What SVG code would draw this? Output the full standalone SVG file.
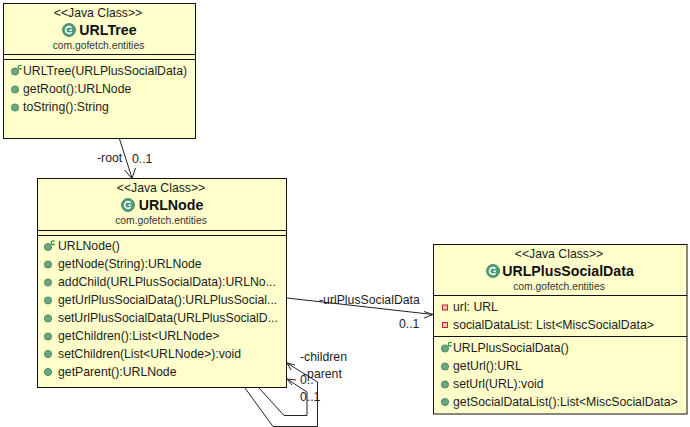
<svg xmlns="http://www.w3.org/2000/svg" width="690" height="427" viewBox="0 0 690 427">
<style>
text{font-family:"Liberation Sans",Arial,sans-serif;font-size:12.25px;fill:#1c1c1c}
.box{fill:#ffffcc;stroke:#111;stroke-width:1}
.div{stroke:#111;stroke-width:1}
.ctr{text-anchor:middle}
text.name{font-size:14.2px;font-weight:bold;fill:#111;text-anchor:middle}
text.pkg{font-size:10.3px;fill:#333;text-anchor:middle}
.conn{fill:none;stroke:#222;stroke-width:1}
.arrow{fill:none;stroke:#222;stroke-width:1}
</style>
<defs>
<g id="cls"><circle r="6.5" fill="#4f9d78" stroke="#3b7a5c" stroke-width="0.8"/><path d="M2.6 -2.2 A3.4 3.4 0 1 0 2.6 2.2 M3 0.3H0.5" fill="none" stroke="#fff" stroke-width="1.6"/></g>
<g id="pub"><circle r="3.6" fill="#6aa67f" stroke="#3f7a58" stroke-width="0.8"/></g>
<g id="ctor"><use href="#pub"/><path d="M6.6 -5.6 A1.9 1.9 0 1 0 6.6 -3" fill="none" stroke="#0a8a2a" stroke-width="1.1"/></g>
<g id="priv"><rect x="-2.5" y="-2.5" width="5" height="5" fill="#f0c0c0" stroke="#b02a2a" stroke-width="1"/></g>
</defs>

<g id="URLTree">
<rect class="box" x="3.500" y="3.500" width="192" height="135"/>
<line class="div" x1="4" y1="54.500" x2="195" y2="54.500"/>
<line class="div" x1="4" y1="59.500" x2="195" y2="59.500"/>
<text class="ctr" x="98" y="17">&lt;&lt;Java Class&gt;&gt;</text>
<use href="#cls" x="69" y="30"/>
<text class="name" x="108" y="35">URLTree</text>
<text class="pkg" x="98.500" y="49">com.gofetch.entities</text>
<use href="#ctor" x="15" y="71.500"/>
<text x="23" y="75">URLTree(URLPlusSocialData)</text>
<use href="#pub" x="15" y="89.500"/>
<text x="23" y="93">getRoot():URLNode</text>
<use href="#pub" x="15" y="107.500"/>
<text x="23" y="111">toString():String</text>
</g>

<g id="URLNode">
<rect class="box" x="37.500" y="178.500" width="249" height="209"/>
<line class="div" x1="38" y1="230.500" x2="286" y2="230.500"/>
<line class="div" x1="38" y1="235.500" x2="286" y2="235.500"/>
<text class="ctr" x="161" y="192">&lt;&lt;Java Class&gt;&gt;</text>
<use href="#cls" x="128" y="205"/>
<text class="name" x="171" y="210">URLNode</text>
<text class="pkg" x="161" y="224">com.gofetch.entities</text>
<use href="#ctor" x="48" y="247"/>
<text x="58" y="250">URLNode()</text>
<use href="#pub" x="48" y="264.500"/>
<text x="58" y="268">getNode(String):URLNode</text>
<use href="#pub" x="48" y="282.500"/>
<text x="58" y="286">addChild(URLPlusSocialData):URLNo...</text>
<use href="#pub" x="48" y="300.500"/>
<text x="58" y="304">getUrlPlusSocialData():URLPlusSocial...</text>
<use href="#pub" x="48" y="318.500"/>
<text x="58" y="322">setUrlPlusSocialData(URLPlusSocialD...</text>
<use href="#pub" x="48" y="336.500"/>
<text x="58" y="340">getChildren():List&lt;URLNode&gt;</text>
<use href="#pub" x="48" y="354"/>
<text x="58" y="358">setChildren(List&lt;URLNode&gt;):void</text>
<use href="#pub" x="48" y="372"/>
<text x="58" y="376">getParent():URLNode</text>
</g>

<g id="URLPlusSocialData">
<rect class="box" x="433.500" y="244.500" width="253.500" height="169.500"/>
<line class="div" x1="434" y1="295.500" x2="687" y2="295.500"/>
<line class="div" x1="434" y1="336.500" x2="687" y2="336.500"/>
<text class="ctr" x="559" y="258">&lt;&lt;Java Class&gt;&gt;</text>
<use href="#cls" x="493" y="271"/>
<text class="name" x="568" y="276">URLPlusSocialData</text>
<text class="pkg" x="559" y="290">com.gofetch.entities</text>
<use href="#priv" x="445" y="307.500"/>
<text x="453" y="311">url: URL</text>
<use href="#priv" x="445" y="325"/>
<text x="453" y="329">socialDataList: List&lt;MiscSocialData&gt;</text>
<use href="#ctor" x="445" y="348.500"/>
<text x="453" y="352">URLPlusSocialData()</text>
<use href="#pub" x="445" y="366.500"/>
<text x="453" y="370">getUrl():URL</text>
<use href="#pub" x="445" y="384.500"/>
<text x="453" y="388">setUrl(URL):void</text>
<use href="#pub" x="445" y="402"/>
<text x="453" y="406">getSocialDataList():List&lt;MiscSocialData&gt;</text>
</g>

<g id="connectors">
<path class="conn" d="M119.500 139L132 178"/>
<path class="arrow" d="M124.500 170L132 178.500L135.500 168"/>
<path class="conn" d="M287 298L433 314.500"/>
<path class="arrow" d="M424 311.500L433 314.500L424 318"/>
<path class="conn" d="M259 388L284 415.500H307V392L287 379"/>
<path class="arrow" d="M292 385L287 379L296 380"/>
<path class="conn" d="M245 388L273 426.500H317.500V382L287 363"/>
<path class="arrow" d="M291 370L287 363L295 365"/>
<text x="97" y="162">-root</text>
<text x="132" y="163">0..1</text>
<text x="319" y="304">-urlPlusSocialData</text>
<text x="399" y="328">0..1</text>
<text x="300" y="361">-children</text>
<text x="303" y="378">-parent</text>
<text x="300" y="384">0..</text>
<text x="300" y="401">0..1</text>
</g>
</svg>
